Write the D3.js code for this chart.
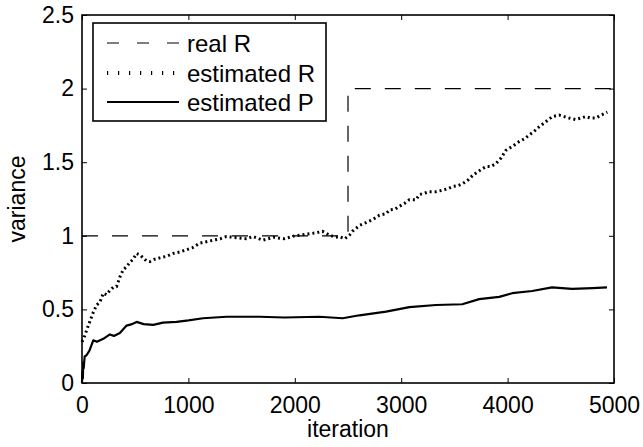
<!DOCTYPE html>
<html lang="en">
<head>
<meta charset="UTF-8">
<title>variance vs iteration</title>
<script src="https://d3js.org/d3.v7.min.js"></script>
<style>
    body { margin: 0; background: #fff; }
    text { font-family: "Liberation Sans", Arial, sans-serif; fill: #000; }
</style>
</head>
<body>
<svg width="643" height="447"></svg>
<script>
// data
var realIter = [0, 2500, 2500, 5000];
var realVal  = [1, 1, 2, 2];

var estRIter = [0, 20, 44, 75, 106, 138, 169, 200, 230, 263, 295, 325, 356, 388, 420, 450, 480, 513, 545, 575, 605, 638, 680, 732, 790, 857, 920, 982, 1040, 1107, 1170, 1232, 1300, 1357, 1420, 1482, 1545, 1607, 1700, 1800, 1900, 2000, 2100, 2200, 2260, 2326, 2380, 2420, 2470, 2514, 2540, 2608, 2670, 2733, 2795, 2858, 2889, 2940, 2983, 3030, 3077, 3140, 3171, 3220, 3265, 3330, 3390, 3440, 3484, 3530, 3578, 3630, 3671, 3730, 3796, 3840, 3890, 3940, 3984, 4050, 4109, 4160, 4203, 4250, 4296, 4359, 4421, 4484, 4530, 4578, 4640, 4690, 4734, 4780, 4828, 4880, 4937];
var estRVal  = [0.28, 0.31, 0.36, 0.42, 0.48, 0.53, 0.55, 0.61, 0.6, 0.63, 0.65, 0.655, 0.72, 0.77, 0.79, 0.82, 0.84, 0.88, 0.87, 0.85, 0.83, 0.825, 0.84, 0.85, 0.86, 0.88, 0.89, 0.905, 0.92, 0.95, 0.96, 0.97, 0.98, 0.995, 0.99, 0.985, 0.98, 0.995, 0.97, 0.99, 0.98, 1.0, 1.01, 1.02, 1.03, 1.005, 0.99, 0.995, 0.98, 1.005, 1.03, 1.07, 1.09, 1.11, 1.14, 1.15, 1.175, 1.18, 1.2, 1.22, 1.245, 1.245, 1.28, 1.29, 1.3, 1.3, 1.31, 1.32, 1.335, 1.34, 1.355, 1.38, 1.41, 1.44, 1.47, 1.47, 1.49, 1.53, 1.58, 1.61, 1.64, 1.66, 1.685, 1.71, 1.74, 1.775, 1.81, 1.82, 1.81, 1.80, 1.79, 1.8, 1.81, 1.8, 1.80, 1.82, 1.84];

var estPIter = [0, 4, 8, 12, 16, 25, 44, 70, 106, 140, 200, 262, 300, 356, 419, 470, 513, 580, 670, 760, 888, 1000, 1138, 1357, 1670, 1900, 2230, 2450, 2608, 2858, 3077, 3327, 3574, 3733, 3921, 4043, 4231, 4418, 4606, 4800, 4934];
var estPVal  = [0, 0.08, 0.03, 0.14, 0.1, 0.18, 0.19, 0.22, 0.29, 0.28, 0.30, 0.33, 0.32, 0.34, 0.39, 0.40, 0.415, 0.40, 0.395, 0.41, 0.415, 0.425, 0.44, 0.45, 0.45, 0.445, 0.45, 0.44, 0.46, 0.485, 0.515, 0.53, 0.535, 0.57, 0.585, 0.61, 0.625, 0.65, 0.64, 0.645, 0.65];

var xTicks = [0, 1000, 2000, 3000, 4000, 5000];
var yTicks = [0, 0.5, 1, 1.5, 2, 2.5];
var legendLabels = ["real R", "estimated R", "estimated P"];

var svg = d3.select("svg"),
    plotL = 82, plotR = 614, plotT = 15, plotB = 383;

var x = d3.scaleLinear().domain([0, 5000]).range([plotL, plotR]),
    y = d3.scaleLinear().domain([0, 2.5]).range([plotB, plotT]);

function pts(xs, ys) { return xs.map(function (d, i) { return [d, ys[i]]; }); }

var line = d3.line()
    .x(function (d) { return x(d[0]); })
    .y(function (d) { return y(d[1]); });

// axes with inward ticks on all four sides
svg.append("g")
    .attr("transform", "translate(0," + plotB + ")")
    .call(d3.axisBottom(x).tickValues(xTicks).tickSize(-5).tickPadding(14).tickFormat(d3.format("d")))
    .call(function (g) { g.select(".domain").remove(); g.selectAll("text").attr("font-size", 23).attr("font-family", null); });

svg.append("g")
    .attr("transform", "translate(0," + plotT + ")")
    .call(d3.axisTop(x).tickValues(xTicks).tickSize(-5).tickFormat(""))
    .call(function (g) { g.select(".domain").remove(); });

svg.append("g")
    .attr("transform", "translate(" + plotL + ",0)")
    .call(d3.axisLeft(y).tickValues(yTicks).tickSize(-5).tickPadding(8).tickFormat(d3.format("~g")))
    .call(function (g) { g.select(".domain").remove(); g.selectAll("text").attr("font-size", 23).attr("font-family", null); });

svg.append("g")
    .attr("transform", "translate(" + plotR + ",0)")
    .call(d3.axisRight(y).tickValues(yTicks).tickSize(-5).tickFormat(""))
    .call(function (g) { g.select(".domain").remove(); });

svg.selectAll(".tick line").attr("stroke", "#000").attr("stroke-width", 1);

// data lines
svg.append("path")
    .datum(pts(realIter, realVal))
    .attr("fill", "none").attr("stroke", "#000").attr("stroke-width", 1.2)
    .attr("stroke-dasharray", "16,14")
    .attr("d", line);

svg.append("path")
    .datum(pts(estRIter, estRVal))
    .attr("fill", "none").attr("stroke", "#000").attr("stroke-width", 3)
    .attr("stroke-dasharray", "2,3")
    .attr("d", line);

svg.append("path")
    .datum(pts(estPIter, estPVal))
    .attr("fill", "none").attr("stroke", "#000").attr("stroke-width", 2.2)
    .attr("stroke-linejoin", "round")
    .attr("d", line);

// box
svg.append("rect")
    .attr("x", plotL).attr("y", plotT)
    .attr("width", plotR - plotL).attr("height", plotB - plotT)
    .attr("fill", "none").attr("stroke", "#000").attr("stroke-width", 1.6);

// axis titles
svg.append("text")
    .attr("x", (plotL + plotR) / 2).attr("y", 437)
    .attr("text-anchor", "middle").attr("font-size", 23)
    .text("iteration");

svg.append("text")
    .attr("transform", "translate(25," + (plotT + plotB) / 2 + ") rotate(-90)")
    .attr("text-anchor", "middle").attr("font-size", 23)
    .text("variance");

// legend
var legend = svg.append("g");
legend.append("rect")
    .attr("x", 93).attr("y", 23).attr("width", 233).attr("height", 98)
    .attr("fill", "#fff").attr("stroke", "#000").attr("stroke-width", 1.6);

var styles = [
    { dash: "12,18", width: 1.2 },
    { dash: "1.2,9.8", width: 4 },
    { dash: null, width: 2.2 }
];
var rowY = [43, 73, 102];

legendLabels.forEach(function (lab, i) {
    var ln = legend.append("line")
        .attr("x1", 107).attr("x2", 179)
        .attr("y1", rowY[i]).attr("y2", rowY[i])
        .attr("stroke", "#000").attr("stroke-width", styles[i].width);
    if (styles[i].dash) ln.attr("stroke-dasharray", styles[i].dash);
    legend.append("text")
        .attr("x", 187).attr("y", rowY[i]).attr("dy", "0.36em")
        .attr("font-size", 24)
        .text(lab);
});
</script>
</body>
</html>
